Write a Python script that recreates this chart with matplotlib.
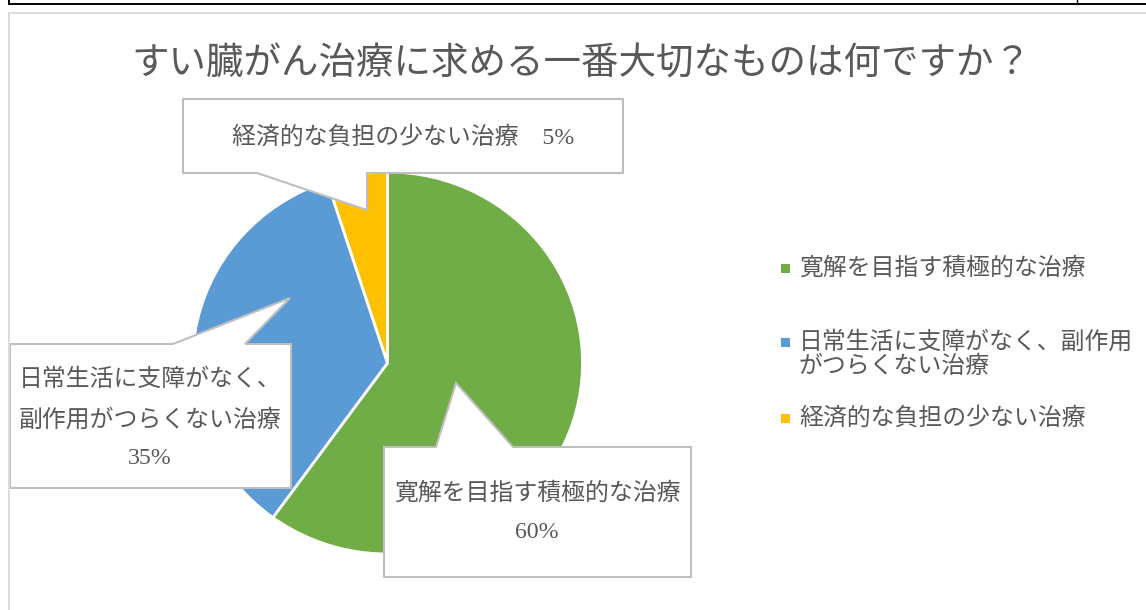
import matplotlib.pyplot as plt
from matplotlib.patches import Polygon, Rectangle

W, H = 1146, 610

TITLE = "すい臓がん治療に求める一番大切なものは何ですか？"
categories = [
    "寛解を目指す積極的な治療",
    "日常生活に支障がなく、副作用がつらくない治療",
    "経済的な負担の少ない治療",
]
shares = [60, 35, 5]
colors = ["#70AD47", "#5B9BD5", "#FFC000"]

TEXT_COLOR = "#595959"
BOX_EDGE = "#BFBFBF"
FONT = ["Liberation Serif", "Noto Sans CJK JP", "DejaVu Sans"]

# pie placement in pixels (slightly wider than tall, as in the source)
CX, CY, RX, RY = 387.5, 363, 195, 191

# callout boxes (pixels): box L,T,R,B, pointer side, gap x0,x1, tip, text lines y, text center x
CALLOUTS = [
    dict(box=(384, 447, 691, 577), side="top", gap=(436, 513), tip=(456, 383),
         wrap=12, ys=[493, 533], cx=537),
    dict(box=(10, 344, 291, 488), side="top", gap=(173, 245), tip=(290, 298),
         wrap=11, ys=[380, 420, 458], cx=150),
    dict(box=(183, 99, 623, 173), side="bottom", gap=(257, 367), tip=(367, 210),
         wrap=None, ys=[137], cx=403),
]

LEGEND_X, LEGEND_WRAP = 785, 14
LEGEND_YS = [268, 342, 418]
LEGEND_LINE = 25


def wrap(s, n):
    return [s[i:i + n] for i in range(0, len(s), n)]


def callout_polygon(c):
    L, T, Rr, B = c["box"]
    g0, g1 = c["gap"]
    if c["side"] == "top":
        pts = [(L, T), (g0, T), c["tip"], (g1, T), (Rr, T), (Rr, B), (L, B)]
    else:
        pts = [(L, T), (Rr, T), (Rr, B), (g1, B), c["tip"], (g0, B), (L, B)]
    return pts


fig = plt.figure(figsize=(W / 100, H / 100), dpi=100)

ax_pie = fig.add_axes([(CX - RX) / W, (H - CY - RY) / H, 2 * RX / W, 2 * RY / H])
ax_pie.pie(shares, colors=colors, startangle=90, counterclock=False,
           wedgeprops=dict(edgecolor="white", linewidth=2))
ax_pie.set_aspect("auto")
ax_pie.set_xlim(-1, 1)
ax_pie.set_ylim(-1, 1)
ax_pie.axis("off")

ov = fig.add_axes([0, 0, 1, 1])
ov.set_xlim(0, W)
ov.set_ylim(H, 0)
ov.axis("off")
ov.set_zorder(3)

# frame lines
ov.plot([9, W], [3.5, 3.5], color="black", lw=1.4)
ov.plot([9, 9], [0, 3.5], color="black", lw=1.4)
ov.plot([1077, 1077], [0, 3.5], color="black", lw=1.0)
ov.plot([8.5, W], [12.5, 12.5], color="#DDDDDD", lw=1.4)
ov.plot([8.5, 8.5], [12.5, H], color="#DDDDDD", lw=1.4)

ov.text(581, 65, TITLE, ha="center", va="center", fontsize=27,
        color=TEXT_COLOR, family=FONT)

for name, pct, c in zip(categories, shares, CALLOUTS):
    ov.add_patch(Polygon(callout_polygon(c), closed=True, facecolor="white",
                         edgecolor=BOX_EDGE, lw=1.5))
    if c["wrap"] is None:
        lines = [f"{name}\u3000{pct}%"]
    else:
        lines = wrap(name, c["wrap"]) + [f"{pct}%"]
    for y, line in zip(c["ys"], lines):
        ov.text(c["cx"], y, line, ha="center", va="center", fontsize=17.2,
                color=TEXT_COLOR, family=FONT)

for name, col, y in zip(categories, colors, LEGEND_YS):
    ov.add_patch(Rectangle((LEGEND_X - 4.5, y - 4.5), 9, 9, facecolor=col,
                           edgecolor="none"))
    for i, line in enumerate(wrap(name, LEGEND_WRAP)):
        ov.text(LEGEND_X + 14, y + i * LEGEND_LINE, line, ha="left", va="center",
                fontsize=17.2, color=TEXT_COLOR, family=FONT)

fig.savefig("out.png", dpi=100)
